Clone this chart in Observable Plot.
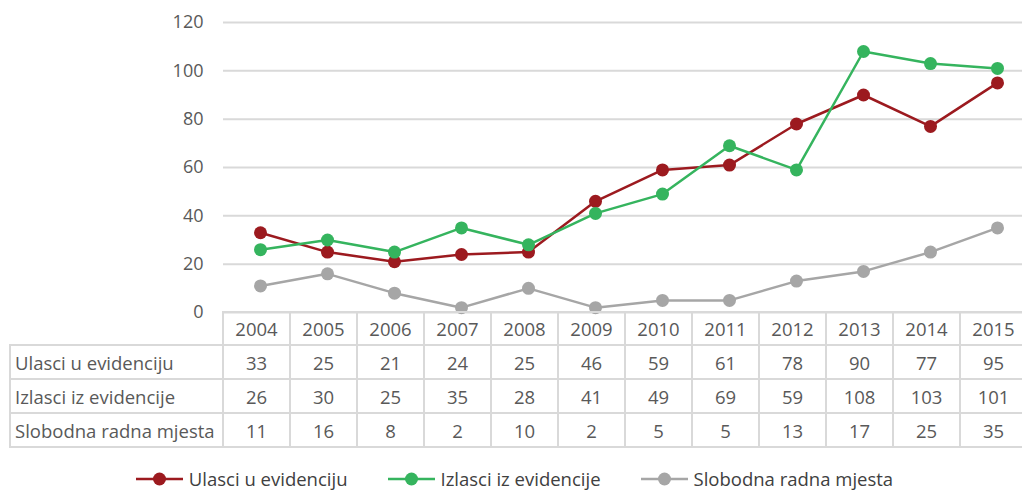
<!DOCTYPE html>
<html><head><meta charset="utf-8">
<script src="https://cdn.jsdelivr.net/npm/d3@7"></script>
<script src="https://cdn.jsdelivr.net/npm/@observablehq/plot@0.6"></script>
<style>
body{margin:0;background:#fff;overflow:hidden;font-family:"Open Sans",sans-serif;}
#wrap{position:relative;width:1022px;height:490px;overflow:hidden;}
#tbl{position:absolute;left:9px;top:311px;border-collapse:collapse;table-layout:fixed;color:#595959;font-size:18.5px;}
#tbl td{border:2px solid #d9d9d9;padding:0;text-align:center;white-space:nowrap;overflow:hidden;}
#tbl td.lab{text-align:left;padding-left:4px;}
#tbl td.corner{border:none;}
#tbl tr.h td{height:31px;}
#tbl tr.r td{height:32px;}
#legend{position:absolute;left:0;top:469px;width:1022px;display:flex;justify-content:center;padding-left:7px;box-sizing:border-box;font-size:18.5px;line-height:20px;color:#404040;}
.item{display:flex;align-items:center;margin:0 20px;}
.item svg{margin-right:6px;}
</style></head>
<body><div id="wrap"></div>
<script>
const years = ["2004","2005","2006","2007","2008","2009","2010","2011","2012","2013","2014","2015"];
const seriesNames = ["Ulasci u evidenciju","Izlasci iz evidencije","Slobodna radna mjesta"];
const ulasci = [33,25,21,24,25,46,59,61,78,90,77,95];
const izlasci = [26,30,25,35,28,41,49,69,59,108,103,101];
const slobodna = [11,16,8,2,10,2,5,5,13,17,25,35];
const colors = ["#9c1a1f","#35b45e","#a6a6a6"];
const yTicks = [0,20,40,60,80,100,120];

const valuesBySeries = [ulasci, izlasci, slobodna];
const rows = [];
seriesNames.forEach((s,i)=>years.forEach((y,j)=>rows.push({series:s, year:y, value:valuesBySeries[i][j]})));

const plot = Plot.plot({
  width:1022, height:332,
  marginLeft:223, marginRight:0, marginTop:22, marginBottom:20,
  style:{fontFamily:"Open Sans, sans-serif", fontSize:"18px", color:"#595959", background:"transparent"},
  x:{type:"point", domain:years, range:[223,1034], padding:0.5, axis:null},
  y:{domain:[0,120]},
  color:{domain:seriesNames, range:colors},
  marks:[
    Plot.gridY(yTicks,{stroke:"#d9d9d9", strokeOpacity:1, strokeWidth:2}),
    Plot.axisY(yTicks,{tickSize:0, tickPadding:20, tickFormat:d=>d, fill:"#595959", fontSize:18, label:null}),
    Plot.line(rows,{x:"year", y:"value", z:"series", stroke:"series", strokeWidth:2.5}),
    Plot.dot(rows,{x:"year", y:"value", fill:"series", r:6.5})
  ]
});
const wrap = document.getElementById("wrap");
wrap.appendChild(plot);

// data table aligned to the plot's x scale
const xs = plot.scale("x");
const step = xs.step;
const left0 = xs.range[0];
const tbl = document.createElement("table");
tbl.id = "tbl";
const cg = document.createElement("colgroup");
const c0 = document.createElement("col"); c0.style.width = (left0-10)+"px"; cg.appendChild(c0);
years.forEach(()=>{const c=document.createElement("col"); c.style.width=step+"px"; cg.appendChild(c);});
tbl.appendChild(cg);
const hr = document.createElement("tr"); hr.className="h";
const corner = document.createElement("td"); corner.className="corner"; hr.appendChild(corner);
years.forEach(y=>{const td=document.createElement("td"); td.textContent=y; hr.appendChild(td);});
tbl.appendChild(hr);
seriesNames.forEach((s,i)=>{
  const tr=document.createElement("tr"); tr.className="r";
  const l=document.createElement("td"); l.className="lab"; l.textContent=s; tr.appendChild(l);
  valuesBySeries[i].forEach(v=>{const td=document.createElement("td"); td.textContent=v; tr.appendChild(td);});
  tbl.appendChild(tr);
});
tbl.style.width = (left0-10+step*years.length)+"px";
wrap.appendChild(tbl);

// legend
const leg = document.createElement("div"); leg.id="legend";
seriesNames.forEach((s,i)=>{
  const it=document.createElement("div"); it.className="item";
  it.innerHTML = `<svg width="47" height="16"><line x1="0" x2="47" y1="8" y2="8" stroke="${colors[i]}" stroke-width="2.5"/><circle cx="23.5" cy="8" r="6.5" fill="${colors[i]}"/></svg><span>${s}</span>`;
  leg.appendChild(it);
});
wrap.appendChild(leg);
</script></body></html>
